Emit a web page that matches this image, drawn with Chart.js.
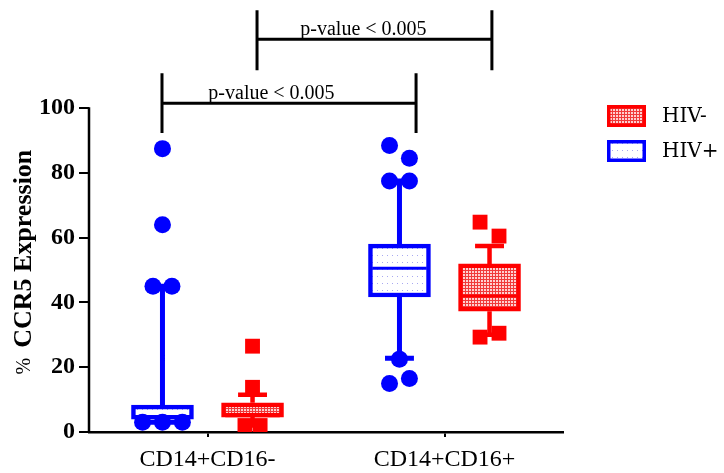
<!DOCTYPE html>
<html>
<head>
<meta charset="utf-8">
<script src="https://cdn.jsdelivr.net/npm/chart.js@4/dist/chart.umd.min.js"></script>
<style>
  html, body { margin: 0; padding: 0; background: #ffffff; }
  #contenedor { width: 724px; height: 473px; position: relative; }
</style>
</head>
<body>
<div id="contenedor"><canvas id="ccr5Chart"></canvas></div>
<script>
// Categorías del eje X
const categorias = ['CD14+CD16-', 'CD14+CD16+'];

// HIV+ (azul): caja, mediana y bigotes
const hivPosQ1 = [4.0, 41.7];
const hivPosQ3 = [8.3, 58.0];
const hivPosMediana = [4.6, 50.6];
const hivPosMin = [3.0, 22.8];
const hivPosMax = [45.0, 77.5];
// puntos fuera de los bigotes (y su desplazamiento lateral)
const hivPosPuntos = [[87.5, 64.0, 45.0, 45.0, 3.0, 3.0, 3.0], [88.5, 84.5, 77.5, 77.5, 22.5, 15.0, 16.5]];
const hivPosDesp = [[0, 0, -0.04, 0.04, -0.084, 0, 0.084], [-0.042, 0.042, -0.042, 0.042, 0, -0.042, 0.042]];

// HIV- (rojo)
const hivNegQ1 = [4.6, 37.3];
const hivNegQ3 = [9.0, 51.9];
const hivNegMediana = [5.0, 42.0];
const hivNegMin = [2.0, 30.0];
const hivNegMax = [11.5, 57.4];
const hivNegPuntos = [[26.5, 13.8, 2.0, 2.0], [64.8, 60.5, 29.3, 30.5]];
const hivNegDesp = [[0, 0, -0.032, 0.032], [-0.04, 0.04, -0.04, 0.04]];

// Ticks del eje Y
const ticksY = [0, 20, 40, 60, 80, 100];

const AZUL = '#0000ff';
const ROJO = '#ff0000';
const LADO = 0.19;   // separación de cada serie respecto al centro de la categoría
const CAPA = 0.061;  // media anchura de los topes de los bigotes
const MEDIA_CAJA = 0.115;

// Patrones de relleno
function patronAzul() {
    const c = document.createElement('canvas');
    c.width = 5; c.height = 7;
    const g = c.getContext('2d');
    g.fillStyle = '#ffffff'; g.fillRect(0, 0, 5, 7);
    g.fillStyle = '#a8a8f0'; g.fillRect(2, 3, 1, 1);
    return g.createPattern(c, 'repeat');
}
function patronRojo() {
    const c = document.createElement('canvas');
    c.width = 3; c.height = 3;
    const g = c.getContext('2d');
    g.fillStyle = '#f03a3a'; g.fillRect(0, 0, 3, 3);
    g.fillStyle = '#ffd0d0'; g.fillRect(1, 1, 2, 2);
    return g.createPattern(c, 'repeat');
}

function cajas(q1, q3, lado) {
    return categorias.map((_, i) => ({ x: i + lado, y: [q1[i], q3[i]] }));
}
function bigotes(q1, q3, min, max, lado) {
    const d = [];
    categorias.forEach((_, i) => {
        const x = i + lado;
        d.push({ x: x, y: q3[i] }, { x: x, y: max[i] }, { x: x, y: null });
        d.push({ x: x, y: q1[i] }, { x: x, y: min[i] }, { x: x, y: null });
        d.push({ x: x - CAPA, y: max[i] }, { x: x + CAPA, y: max[i] }, { x: x, y: null });
        d.push({ x: x - CAPA, y: min[i] }, { x: x + CAPA, y: min[i] }, { x: x, y: null });
    });
    return d;
}
function medianas(med, lado) {
    const d = [];
    categorias.forEach((_, i) => {
        const x = i + lado;
        d.push({ x: x - MEDIA_CAJA, y: med[i] }, { x: x + MEDIA_CAJA, y: med[i] }, { x: x, y: null });
    });
    return d;
}
function puntos(valores, desp, lado) {
    const d = [];
    categorias.forEach((_, i) => {
        valores[i].forEach((v, k) => d.push({ x: i + lado + desp[i][k], y: v }));
    });
    return d;
}

const serif = '"Liberation Serif", "Times New Roman", serif';

// Plugin: eje Y recortado, corchetes de significancia, título y leyenda
const anotaciones = {
    id: 'anotaciones',
    afterDraw(chart) {
        const ctx = chart.ctx;
        const x2 = chart.scales.x2;
        const y = chart.scales.y;
        const area = chart.chartArea;
        ctx.save();
        ctx.strokeStyle = '#000';
        ctx.lineWidth = 2.5;
        ctx.beginPath();
        ctx.moveTo(area.left, y.getPixelForValue(0) + 1);
        ctx.lineTo(area.left, y.getPixelForValue(ticksY[ticksY.length - 1]) - 1);
        ctx.stroke();

        // corchetes
        const corchetes = [
            { x0: -0.192, x1: 0.88, nivel: 101.5, arriba: 110.8, abajo: 92.3, texto: 0.27 },
            { x0: 0.209, x1: 1.2, nivel: 121.3, arriba: 130.2, abajo: 111.7, texto: 0.658 }
        ];
        ctx.lineWidth = 3;
        ctx.font = '20px ' + serif;
        ctx.fillStyle = '#000';
        ctx.textAlign = 'center';
        ctx.textBaseline = 'alphabetic';
        corchetes.forEach(c => {
            const a = x2.getPixelForValue(c.x0), b = x2.getPixelForValue(c.x1);
            const yl = y.getPixelForValue(c.nivel);
            ctx.beginPath();
            ctx.moveTo(a, yl); ctx.lineTo(b, yl);
            ctx.moveTo(a, y.getPixelForValue(c.arriba)); ctx.lineTo(a, y.getPixelForValue(c.abajo));
            ctx.moveTo(b, y.getPixelForValue(c.arriba)); ctx.lineTo(b, y.getPixelForValue(c.abajo));
            ctx.stroke();
            ctx.fillText('p-value < 0.005', x2.getPixelForValue(c.texto), yl - 4);
        });

        // título del eje Y
        const yc = (y.getPixelForValue(0) + y.getPixelForValue(100)) / 2 - 8;
        ctx.translate(24, yc);
        ctx.rotate(-Math.PI / 2);
        ctx.textBaseline = 'middle';
        ctx.textAlign = 'left';
        ctx.font = '20px ' + serif;
        const pct = '%  ';
        const wPct = ctx.measureText(pct).width;
        ctx.font = 'bold 26px ' + serif;
        const resto = 'CCR5 Expression';
        const wResto = ctx.measureText(resto).width;
        const inicio = -(wPct + wResto) / 2;
        ctx.font = '20px ' + serif;
        ctx.fillText(pct, inicio, 1);
        ctx.font = 'bold 26px ' + serif;
        ctx.fillText(resto, inicio + wPct, 0);
        ctx.restore();

        // leyenda
        ctx.save();
        const items = [
            { texto: 'HIV-', borde: ROJO, fondo: chart.data.datasets[1].backgroundColor, y: 105 },
            { texto: 'HIV+', borde: AZUL, fondo: chart.data.datasets[0].backgroundColor, y: 140 }
        ];
        const lx = area.right + 44;
        items.forEach(it => {
            ctx.fillStyle = it.borde;
            ctx.fillRect(lx, it.y, 39, 22);
            ctx.fillStyle = it.fondo;
            ctx.fillRect(lx + 3.5, it.y + 3.5, 32, 15);
            ctx.fillStyle = '#000';
            ctx.font = '20px "DejaVu Serif", serif';
            ctx.textBaseline = 'middle';
            ctx.textAlign = 'left';
            ctx.fillText(it.texto, lx + 55, it.y + 12);
        });
        ctx.restore();
    }
};

const ctx = document.getElementById('ccr5Chart');
new Chart(ctx, {
    type: 'bar',
    data: {
        labels: categorias,
        datasets: [
            {
                type: 'bar', label: 'HIV+', data: cajas(hivPosQ1, hivPosQ3, -LADO),
                backgroundColor: patronAzul(), borderColor: AZUL, borderWidth: 4.5, borderSkipped: false,
                xAxisID: 'x2', grouped: false, barThickness: 62, order: 3
            },
            {
                type: 'bar', label: 'HIV-', data: cajas(hivNegQ1, hivNegQ3, LADO),
                backgroundColor: patronRojo(), borderColor: ROJO, borderWidth: 4.5, borderSkipped: false,
                xAxisID: 'x2', grouped: false, barThickness: 62, order: 3
            },
            {
                type: 'scatter', showLine: true, data: bigotes(hivPosQ1, hivPosQ3, hivPosMin, hivPosMax, -LADO),
                borderColor: AZUL, borderWidth: 5, pointRadius: 0, xAxisID: 'x2', order: 4
            },
            {
                type: 'scatter', showLine: true, data: bigotes(hivNegQ1, hivNegQ3, hivNegMin, hivNegMax, LADO),
                borderColor: ROJO, borderWidth: 4.5, pointRadius: 0, xAxisID: 'x2', order: 4
            },
            {
                type: 'scatter', showLine: true, data: medianas(hivPosMediana, -LADO),
                borderColor: AZUL, borderWidth: 3, pointRadius: 0, xAxisID: 'x2', order: 2
            },
            {
                type: 'scatter', showLine: true, data: medianas(hivNegMediana, LADO),
                borderColor: ROJO, borderWidth: 3, pointRadius: 0, xAxisID: 'x2', order: 2
            },
            {
                type: 'scatter', data: puntos(hivPosPuntos, hivPosDesp, -LADO),
                pointStyle: 'circle', pointRadius: 8.5, backgroundColor: AZUL, borderColor: AZUL, borderWidth: 0,
                xAxisID: 'x2', order: 1
            },
            {
                type: 'scatter', data: puntos(hivNegPuntos, hivNegDesp, LADO),
                pointStyle: 'rect', pointRadius: 10.5, backgroundColor: ROJO, borderColor: ROJO, borderWidth: 0,
                xAxisID: 'x2', order: 1
            }
        ]
    },
    options: {
        responsive: true,
        maintainAspectRatio: false,
        animation: false,
        events: [],
        layout: { padding: { top: 11, right: 161, bottom: 0, left: 0 } },
        plugins: { legend: { display: false }, tooltip: { enabled: false } },
        scales: {
            x: {
                type: 'category',
                offset: true,
                grid: { drawOnChartArea: false, offset: false, tickLength: 5, color: '#000', lineWidth: 2 },
                border: { display: true, color: '#000', width: 2.5 },
                ticks: { color: '#000', font: { family: serif, size: 24 }, padding: 8 },
                afterFit: s => { s.height = 41; s.paddingLeft = 0; s.paddingRight = 0; }
            },
            x2: { type: 'linear', display: false, offset: false, min: -0.5, max: 1.5 },
            y: {
                min: 0, max: 130,
                grid: { drawOnChartArea: false, tickLength: 10, color: '#000', lineWidth: 2 },
                border: { display: false },
                ticks: { color: '#000', font: { family: serif, size: 24, weight: 'bold' }, padding: 4 },
                afterBuildTicks: s => { s.ticks = ticksY.map(v => ({ value: v })); },
                afterFit: s => { s.width = 89; s.paddingTop = 0; s.paddingBottom = 0; }
            }
        }
    },
    plugins: [anotaciones]
});
</script>
</body>
</html>
